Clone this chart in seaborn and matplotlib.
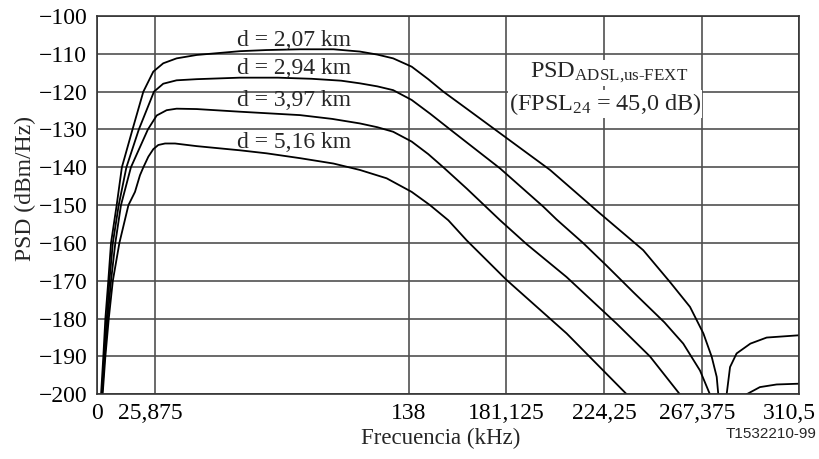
import pandas as pd
import matplotlib
matplotlib.use('Agg')
import matplotlib.pyplot as plt
import matplotlib.transforms as mtransforms
import seaborn as sns
import numpy as np

# ============================================================
# Data (frequency in kHz, PSD in dBm/Hz)
# ============================================================
f_207 = [1.8, 2.8, 3.7, 5.0, 6.2, 8.7, 11.0, 15.7, 20.5, 24.9, 29.3, 35.2, 44.1, 63.2,
         75, 90, 104.6, 116.3, 124, 131, 139.2, 146.5, 153.2, 163.5, 178.3, 200.4,
         222.5, 241.6, 253.4, 262.3, 268.2, 271.9, 274.1, 274.8]
psd_207 = [-200, -190, -180, -170, -160, -150, -140, -130, -120, -114.7, -112.5, -111.2,
           -110.3, -109.3, -109.0, -108.8, -108.8, -109.4, -110.2, -111.2, -113.4, -116.7,
           -120, -124.5, -131, -140.7, -152.2, -161.9, -170.3, -176.9, -183.9, -190.1,
           -195.4, -200]
f_207_lobe = [278.5, 280, 282.9, 289, 296.2, 310.5]
psd_207_lobe = [-200, -192.8, -189.2, -186.6, -185, -184.4]

f_294 = [2.2, 3.1, 4.3, 5.5, 7.0, 9.6, 13.0, 18.5, 25.2, 29.3, 35.2, 44.1, 63.2, 80, 95,
         108, 116.3, 124, 131, 139.2, 147.5, 156.2, 178.3, 197.4, 203.3, 215, 225.4,
         237.2, 251, 259.3, 266.7, 271.1]
psd_294 = [-200, -190, -180, -170, -160, -150, -140, -130, -120, -117.9, -117, -116.7,
           -116.3, -116.3, -116.6, -117.1, -117.8, -118.6, -119.6, -122.2, -125.9, -130,
           -140.3, -150.4, -153.8, -160, -166, -173, -181, -186.6, -193.7, -200]
f_294_lobe = [287.3, 293.2, 300.6, 310.5]
psd_294_lobe = [-200, -198.1, -197.4, -197.2]

f_397 = [2.2, 3.4, 4.7, 6.2, 8.1, 10.6, 15.0, 22.5, 26.4, 30.8, 35.2, 44.1, 63.2, 89.8,
         104, 116.3, 124, 131, 139.2, 146.5, 153.2, 163.5, 178.3, 190, 207.7, 229.8,
         244.6, 257.8]
psd_397 = [-200, -190, -180, -170, -160, -150, -140, -130, -126.3, -124.9, -124.5, -124.6,
           -125.3, -126.2, -127.2, -128.4, -129.4, -130.6, -133.2, -136.5, -140, -145.6,
           -154, -160.3, -169, -181.3, -190, -200]

f_516 = [2.5, 3.7, 5.2, 7.0, 9.9, 13.9, 16.8, 19.0, 20.5, 22.7, 24.9, 27.1, 30.1, 34.5,
         44.1, 63.2, 75, 90, 104.6, 116.3, 128.1, 139.2, 147.3, 155.4, 163.5, 181.2,
         207.7, 234.3]
psd_516 = [-200, -190, -180, -170, -160, -150, -146.5, -142.1, -140, -137.2, -135.2,
           -134.1, -133.7, -133.7, -134.4, -135.5, -136.3, -137.6, -139, -140.7, -142.9,
           -146.5, -150, -154, -159.3, -169.8, -183.9, -200]

curve_labels = ['d = 2,07 km', 'd = 2,94 km', 'd = 3,97 km', 'd = 5,16 km']
label_psd = [-107.9, -115.2, -123.8, -134.8]
label_f = 61.8

x_ticks = [0, 25.875, 138, 181.125, 224.25, 267.375, 310.5]
x_tick_labels = ['0', '25,875', '138', '181,125', '224,25', '267,375', '310,5']
y_ticks = list(range(-200, -99, 10))

segments = [(f_207, psd_207), (f_207_lobe, psd_207_lobe), (f_294, psd_294),
            (f_294_lobe, psd_294_lobe), (f_397, psd_397), (f_516, psd_516)]
df = pd.concat([pd.DataFrame({'f': fx, 'psd': py, 'seg': i})
                for i, (fx, py) in enumerate(segments)], ignore_index=True)

# ============================================================
# Plot
# ============================================================
sns.set_style('white')
plt.rcParams['font.family'] = ['Liberation Serif', 'DejaVu Serif']
plt.rcParams['mathtext.fontset'] = 'custom'
plt.rcParams['mathtext.rm'] = 'Liberation Serif'
plt.rcParams['mathtext.it'] = 'Liberation Serif:italic'
plt.rcParams['mathtext.bf'] = 'Liberation Serif:bold'

fig = plt.figure(figsize=(8.2, 4.59), dpi=100)
ax = fig.add_axes([97 / 820, 1 - 394.3 / 459, 702 / 820, 378.3 / 459])

sns.lineplot(data=df, x='f', y='psd', units='seg', estimator=None, sort=False,
             color='black', linewidth=1.3, ax=ax, legend=False)

ax.set_xlim(0, 310.5)
ax.set_ylim(-200, -100)
ax.set_xticks(x_ticks)
ax.set_xticklabels(x_tick_labels)
ax.set_yticks(y_ticks)
ax.grid(True, color='#505050', linewidth=1.2)
ax.set_axisbelow(True)
for s in ax.spines.values():
    s.set_color('#333333')
    s.set_linewidth(1.2)
ax.tick_params(length=0, labelsize=17, colors='black')
ax.tick_params(axis='y', pad=7)
ax.tick_params(axis='x', pad=6)

# small shifts of some x tick labels, as in the reference
shifts = {1: -5, 5: -4.5, 6: -10}
for i, lab in enumerate(ax.get_xticklabels()):
    if i in shifts:
        lab.set_transform(lab.get_transform() +
                          mtransforms.ScaledTranslation(shifts[i] / 100, 0, fig.dpi_scale_trans))

ax.set_xlabel('Frecuencia (kHz)', fontsize=16.5)
ax.set_ylabel('PSD (dBm/Hz)', fontsize=17)
ax.xaxis.set_label_coords(0.489, -0.088)
ax.yaxis.set_label_coords(-0.087, 0.544)

for lab, yv in zip(curve_labels, label_psd):
    ax.text(label_f, yv, lab, fontsize=17, va='baseline', ha='left')

box = dict(facecolor='white', edgecolor='none', pad=0.5)
ax.text(226.3, -116.2, r'PSD$_{\text{ADSL,us-FEXT}}$', fontsize=17.5,
        ha='center', va='baseline', bbox=box)
ax.text(224.7, -124.9, r'(FPSL$_{24}$ = 45,0 dB)', fontsize=17.5,
        ha='center', va='baseline', bbox=box)

fig.text(817 / 820, 1 - 438.5 / 459, 'T1532210-99', fontsize=11, ha='right',
         va='baseline', family=['Liberation Sans', 'DejaVu Sans'])

plt.savefig('out.png', dpi=100)
